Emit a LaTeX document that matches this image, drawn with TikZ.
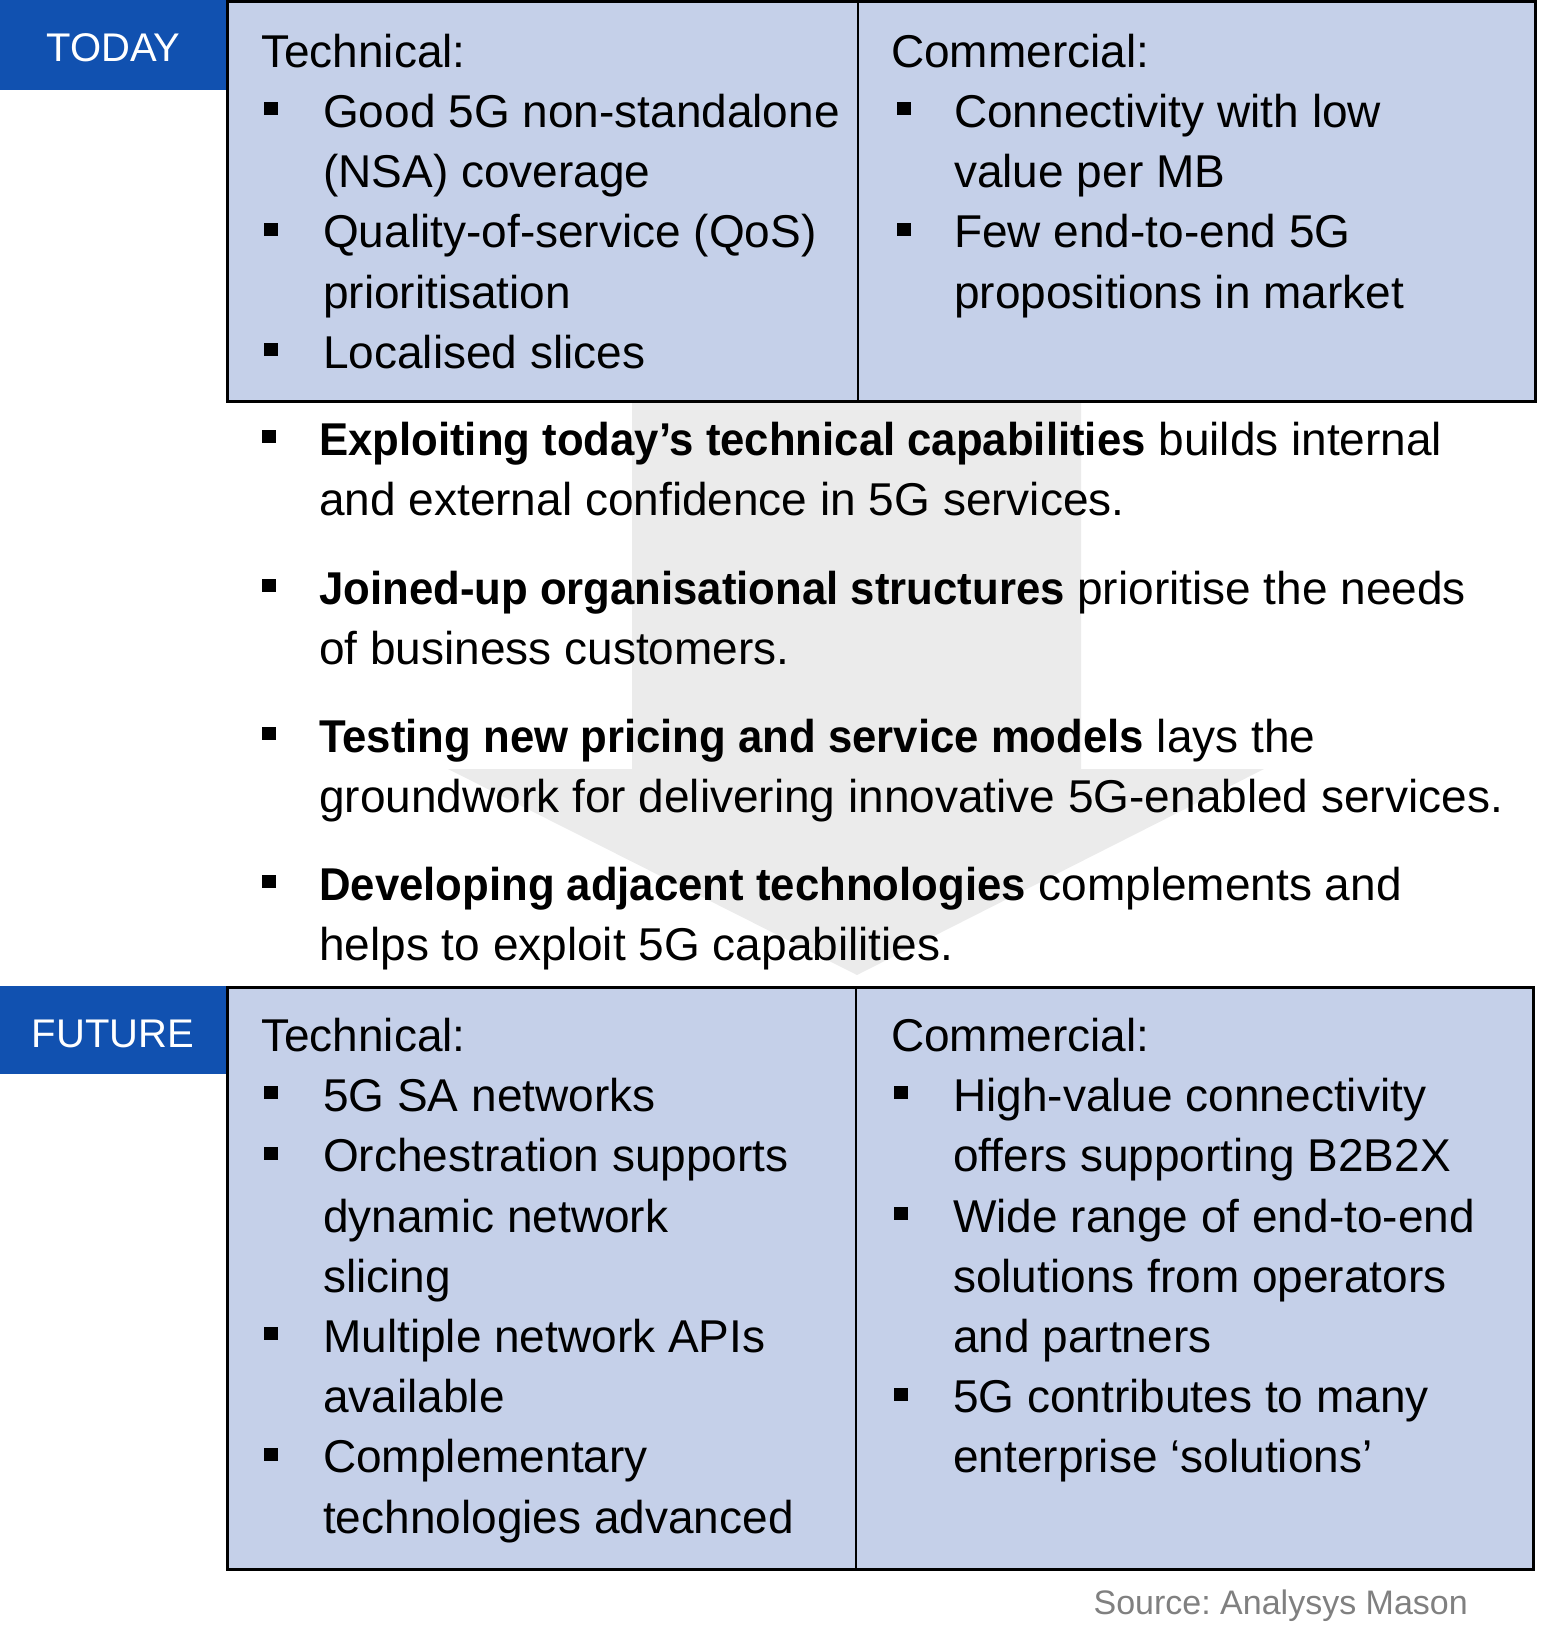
\documentclass[tikz,border=0pt]{standalone}
\usepackage{fontspec}
\setmainfont[BoldFeatures={FakeStretch=0.95}]{Liberation Sans}
\frenchspacing
\definecolor{boxfill}{RGB}{197,208,233}
\definecolor{labblue}{RGB}{17,81,176}
\definecolor{arrowgray}{RGB}{235,235,235}
\definecolor{srcgray}{RGB}{128,128,128}
\begin{document}
\begin{tikzpicture}[x=1pt,y=-1pt,
  txt/.style={anchor=base west, inner sep=0pt, font=\fontsize{46}{60}\selectfont},
  bul/.style={fill=black, minimum width=14pt, minimum height=13pt, inner sep=0pt, anchor=center},
  lab/.style={anchor=base, inner sep=0pt, text=white, font=\fontsize{40}{48}\selectfont},
  panel/.style={draw=black, line width=3pt, fill=boxfill},
  divider/.style={draw=black, line width=2pt}]
\useasboundingbox (0,0) rectangle (1554,1644);

% big gray arrow
\fill[arrowgray] (632,402) -- (1081,402) -- (1081,769) -- (1264,769) -- (857,975) -- (448,769) -- (632,769) -- cycle;

% top panel
\draw[panel] (227.5,1.5) rectangle (1535.5,401);
\coordinate (tdtop) at (858,1.5);
\coordinate (tdbot) at (858,401);
\draw[divider] (tdtop) -- (tdbot);

% bottom panel
\draw[panel] (227.5,987.5) rectangle (1533.5,1569);
\coordinate (bdtop) at (856,987.5);
\coordinate (bdbot) at (856,1569);
\draw[divider] (bdtop) -- (bdbot);

% labels
\fill[labblue] (0,0) rectangle (226,90);
\node[lab] (today) at (113.5,61) {TODAY};
\fill[labblue] (0,986) rectangle (226,1074);
\node[lab] (future) at (113,1047) {FUTURE};

% top-left
\node[txt] (tlt) at (261,67) {Technical:};
\node[bul] (tlb1) at (271,108.5) {};
\node[txt] (tl1) at (323,127) {Good 5G non-standalone};
\node[txt] (tl2) at (323,187) {(NSA) coverage};
\node[bul] (tlb2) at (271,229) {};
\node[txt] (tl3) at (323,247.5) {Quality-of-service (QoS)};
\node[txt] (tl4) at (323,308) {prioritisation};
\node[bul] (tlb3) at (271,349.5) {};
\node[txt] (tl5) at (323,368) {Localised slices};

% top-right
\node[txt] (trt) at (891,67) {Commercial:};
\node[bul] (trb1) at (903.5,108.5) {};
\node[txt] (tr1) at (954,127) {Connectivity with low};
\node[txt] (tr2) at (954,187) {value per MB};
\node[bul] (trb2) at (903.5,229) {};
\node[txt] (tr3) at (954,247.5) {Few end-to-end 5G};
\node[txt] (tr4) at (954,308) {propositions in market};

% middle
\node[bul] (mb1) at (268.5,436.5) {};
\node[txt] (m1) at (319,455) {\textbf{Exploiting today’s technical capabilities} builds internal};
\node[txt] (m2) at (319,515) {and external confidence in 5G services.};
\node[bul] (mb2) at (268.5,585.5) {};
\node[txt] (m3) at (319,604) {\textbf{Joined-up organisational structures} prioritise the needs};
\node[txt] (m4) at (319,664) {of business customers.};
\node[bul] (mb3) at (268.5,733.5) {};
\node[txt] (m5) at (319,752) {\textbf{Testing new pricing and service models} lays the};
\node[txt] (m6) at (319,812) {groundwork for delivering innovative 5G-enabled services.};
\node[bul] (mb4) at (268.5,881.5) {};
\node[txt] (m7) at (319,900) {\textbf{Developing adjacent technologies} complements and};
\node[txt] (m8) at (319,960) {helps to exploit 5G capabilities.};

% bottom-left
\node[txt] (blt) at (261,1051) {Technical:};
\node[bul] (blb1) at (271,1092.5) {};
\node[txt] (bl1) at (323,1111) {5G SA networks};
\node[bul] (blb2) at (271,1153) {};
\node[txt] (bl2) at (323,1171.5) {Orchestration supports};
\node[txt] (bl3) at (323,1232) {dynamic network};
\node[txt] (bl4) at (323,1292) {slicing};
\node[bul] (blb3) at (271,1333.5) {};
\node[txt] (bl5) at (323,1352) {Multiple network APIs};
\node[txt] (bl6) at (323,1412.5) {available};
\node[bul] (blb4) at (271,1454) {};
\node[txt] (bl7) at (323,1472.5) {Complementary};
\node[txt] (bl8) at (323,1533) {technologies advanced};

% bottom-right
\node[txt] (brt) at (891,1051) {Commercial:};
\node[bul] (brb1) at (901,1092.5) {};
\node[txt] (br1) at (953,1111) {High-value connectivity};
\node[txt] (br2) at (953,1171.5) {offers supporting B2B2X};
\node[bul] (brb2) at (901,1213.5) {};
\node[txt] (br3) at (953,1232) {Wide range of end-to-end};
\node[txt] (br4) at (953,1292) {solutions from operators};
\node[txt] (br5) at (953,1352) {and partners};
\node[bul] (brb3) at (901,1394) {};
\node[txt] (br6) at (953,1412.5) {5G contributes to many};
\node[txt] (br7) at (953,1472.5) {enterprise ‘solutions’};

% source
\node[anchor=base east, inner sep=0pt, text=srcgray, font=\fontsize{34}{40}\selectfont] (src) at (1468,1614) {Source: Analysys Mason};
\end{tikzpicture}
\end{document}
